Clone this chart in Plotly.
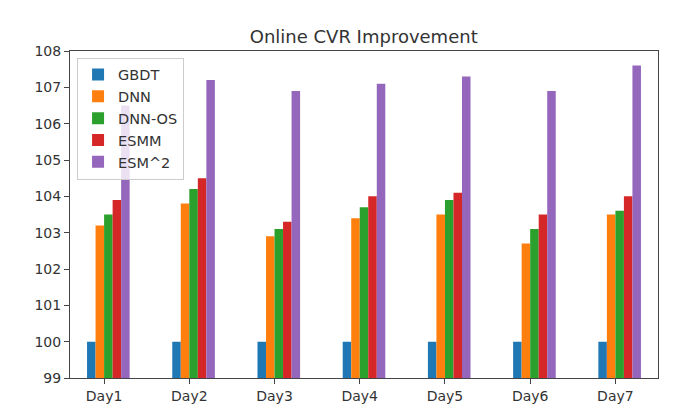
import plotly.graph_objects as go

days = ["Day1", "Day2", "Day3", "Day4", "Day5", "Day6", "Day7"]
gbdt = [100, 100, 100, 100, 100, 100, 100]
dnn = [103.2, 103.8, 102.9, 103.4, 103.5, 102.7, 103.5]
dnn_os = [103.5, 104.2, 103.1, 103.7, 103.9, 103.1, 103.6]
esmm = [103.9, 104.5, 103.3, 104.0, 104.1, 103.5, 104.0]
esm2 = [106.5, 107.2, 106.9, 107.1, 107.3, 106.9, 107.6]

series = [
    ("GBDT", gbdt, "#1f77b4"),
    ("DNN", dnn, "#ff7f0e"),
    ("DNN-OS", dnn_os, "#2ca02c"),
    ("ESMM", esmm, "#d62728"),
    ("ESM^2", esm2, "#9467bd"),
]

xs = list(range(len(days)))
fig = go.Figure()
for i, (name, vals, color) in enumerate(series):
    fig.add_trace(go.Bar(
        x=xs, y=vals, name=name, marker_color=color, marker_line_width=0,
        width=0.1, offset=-0.2 + 0.1 * i,
    ))

axis_common = dict(
    showline=True, linecolor="#444", linewidth=1, mirror=True,
    ticks="outside", ticklen=5, tickcolor="#444", showgrid=False, zeroline=False,
    tickfont=dict(family="DejaVu Sans", size=14, color="#333"),
)
fig.update_layout(
    width=675, height=408,
    margin=dict(l=62, r=25, t=43, b=36),
    paper_bgcolor="white", plot_bgcolor="white",
    barmode="overlay",
    title=dict(text="Online CVR Improvement", x=0.527, xanchor="center",
               y=1 - 29 / 408, yanchor="middle",
               font=dict(family="DejaVu Sans", size=18, color="#333")),
    xaxis=dict(range=[-0.4, 6.5], tickvals=xs, ticktext=days, **axis_common),
    yaxis=dict(range=[99, 108], dtick=1, **axis_common),
    legend=dict(x=0.012, y=0.98, xanchor="left", yanchor="top",
                bgcolor="rgba(255,255,255,0.8)", bordercolor="#ccc", borderwidth=1,
                font=dict(family="DejaVu Sans", size=14.5, color="#333"), traceorder="normal"),
    showlegend=True,
)
fig.write_html("out.html")
